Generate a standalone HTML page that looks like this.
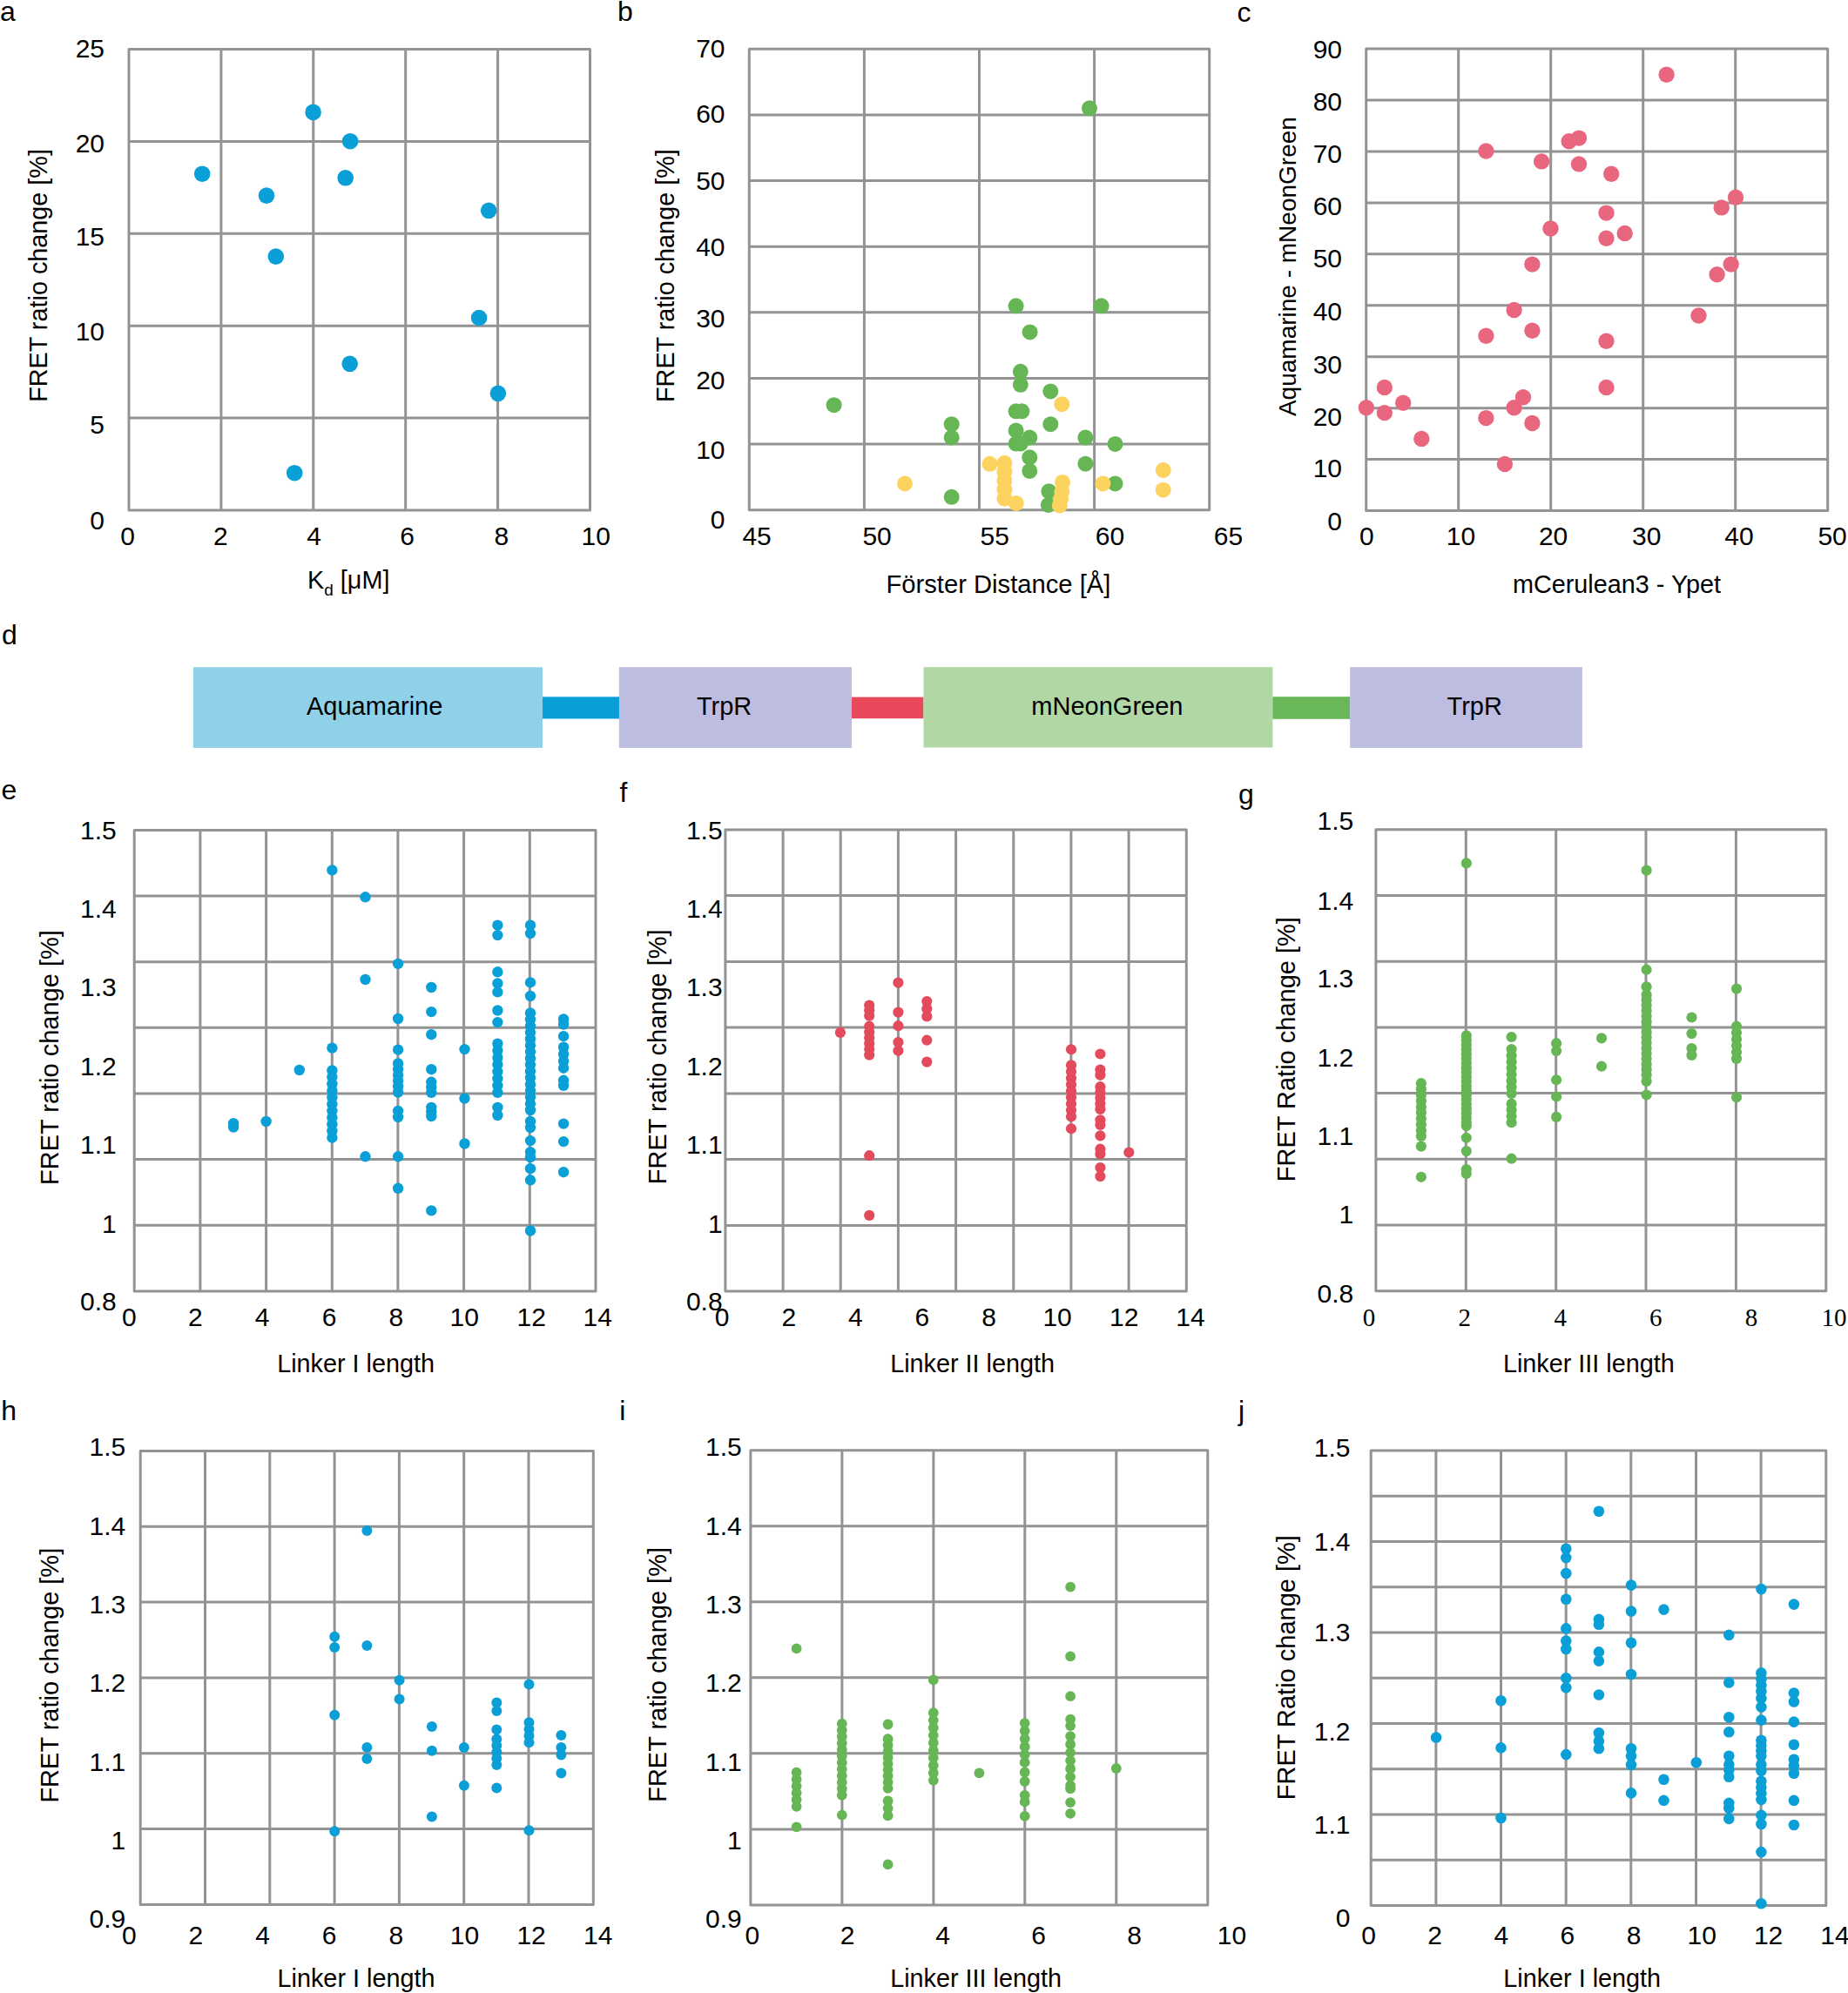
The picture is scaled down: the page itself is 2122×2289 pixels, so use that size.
<!DOCTYPE html>
<html><head><meta charset="utf-8"><title>FRET linker figure</title>
<style>html,body{margin:0;padding:0;background:#fff;}svg{display:block;}text{fill:#000;}</style>
</head><body>
<svg xmlns="http://www.w3.org/2000/svg" width="2122" height="2289" viewBox="0 0 2122 2289"><text x="0.0" y="24.0" font-size="32" text-anchor="start" font-family="'Liberation Sans', Arial, sans-serif" >a</text>
<path d="M253.9 56.5V586.0M359.8 56.5V586.0M465.7 56.5V586.0M571.6 56.5V586.0M148.0 162.4H677.5M148.0 268.3H677.5M148.0 374.2H677.5M148.0 480.1H677.5" stroke="#939393" stroke-width="3.0" fill="none"/>
<rect x="148.0" y="56.5" width="529.5" height="529.5" stroke="#939393" stroke-width="3.0" fill="none" stroke-linejoin="round"/>
<text x="120.0" y="65.5" font-size="30" text-anchor="end" font-family="'Liberation Sans', Arial, sans-serif">25</text>
<text x="120.0" y="174.6" font-size="30" text-anchor="end" font-family="'Liberation Sans', Arial, sans-serif">20</text>
<text x="120.0" y="282.2" font-size="30" text-anchor="end" font-family="'Liberation Sans', Arial, sans-serif">15</text>
<text x="120.0" y="390.8" font-size="30" text-anchor="end" font-family="'Liberation Sans', Arial, sans-serif">10</text>
<text x="120.0" y="498.4" font-size="30" text-anchor="end" font-family="'Liberation Sans', Arial, sans-serif">5</text>
<text x="120.0" y="607.6" font-size="30" text-anchor="end" font-family="'Liberation Sans', Arial, sans-serif">0</text>
<text x="146.5" y="625.9" font-size="30" text-anchor="middle" font-family="'Liberation Sans', Arial, sans-serif">0</text>
<text x="253.3" y="625.9" font-size="30" text-anchor="middle" font-family="'Liberation Sans', Arial, sans-serif">2</text>
<text x="360.6" y="625.9" font-size="30" text-anchor="middle" font-family="'Liberation Sans', Arial, sans-serif">4</text>
<text x="467.5" y="625.9" font-size="30" text-anchor="middle" font-family="'Liberation Sans', Arial, sans-serif">6</text>
<text x="575.8" y="625.9" font-size="30" text-anchor="middle" font-family="'Liberation Sans', Arial, sans-serif">8</text>
<text x="684.2" y="625.9" font-size="30" text-anchor="middle" font-family="'Liberation Sans', Arial, sans-serif">10</text>
<text x="353" y="676.1" font-size="28.8" font-family="'Liberation Sans', Arial, sans-serif">K<tspan font-size="19" dy="8">d</tspan><tspan dy="-8"> [μM]</tspan></text>
<text transform="translate(53.8,316.4) rotate(-90)" x="0" y="0" font-size="28.8" text-anchor="middle" font-family="'Liberation Sans', Arial, sans-serif">FRET ratio change [%]</text>
<circle cx="232.2" cy="199.7" r="9.3" fill="#0a9fd6"/><circle cx="306.0" cy="224.6" r="9.3" fill="#0a9fd6"/><circle cx="316.8" cy="294.6" r="9.3" fill="#0a9fd6"/><circle cx="359.6" cy="128.9" r="9.3" fill="#0a9fd6"/><circle cx="402.1" cy="162.2" r="9.3" fill="#0a9fd6"/><circle cx="396.7" cy="204.3" r="9.3" fill="#0a9fd6"/><circle cx="401.7" cy="417.8" r="9.3" fill="#0a9fd6"/><circle cx="338.2" cy="543.2" r="9.3" fill="#0a9fd6"/><circle cx="561.2" cy="241.8" r="9.3" fill="#0a9fd6"/><circle cx="550.1" cy="365.0" r="9.3" fill="#0a9fd6"/><circle cx="571.9" cy="451.8" r="9.3" fill="#0a9fd6"/>
<text x="709.0" y="24.0" font-size="32" text-anchor="start" font-family="'Liberation Sans', Arial, sans-serif" >b</text>
<path d="M992.4 56.2V585.8M1124.5 56.2V585.8M1256.6 56.2V585.8M860.3 131.9H1388.7M860.3 207.5H1388.7M860.3 283.2H1388.7M860.3 358.8H1388.7M860.3 434.5H1388.7M860.3 510.1H1388.7" stroke="#939393" stroke-width="3.0" fill="none"/>
<rect x="860.3" y="56.2" width="528.4" height="529.6" stroke="#939393" stroke-width="3.0" fill="none" stroke-linejoin="round"/>
<text x="832.5" y="66.4" font-size="30" text-anchor="end" font-family="'Liberation Sans', Arial, sans-serif">70</text>
<text x="832.5" y="141.1" font-size="30" text-anchor="end" font-family="'Liberation Sans', Arial, sans-serif">60</text>
<text x="832.5" y="218.3" font-size="30" text-anchor="end" font-family="'Liberation Sans', Arial, sans-serif">50</text>
<text x="832.5" y="294.4" font-size="30" text-anchor="end" font-family="'Liberation Sans', Arial, sans-serif">40</text>
<text x="832.5" y="375.6" font-size="30" text-anchor="end" font-family="'Liberation Sans', Arial, sans-serif">30</text>
<text x="832.5" y="446.5" font-size="30" text-anchor="end" font-family="'Liberation Sans', Arial, sans-serif">20</text>
<text x="832.5" y="527.2" font-size="30" text-anchor="end" font-family="'Liberation Sans', Arial, sans-serif">10</text>
<text x="832.5" y="607.3" font-size="30" text-anchor="end" font-family="'Liberation Sans', Arial, sans-serif">0</text>
<text x="869.1" y="625.8" font-size="30" text-anchor="middle" font-family="'Liberation Sans', Arial, sans-serif">45</text>
<text x="1007.1" y="625.8" font-size="30" text-anchor="middle" font-family="'Liberation Sans', Arial, sans-serif">50</text>
<text x="1142.2" y="625.8" font-size="30" text-anchor="middle" font-family="'Liberation Sans', Arial, sans-serif">55</text>
<text x="1274.5" y="625.8" font-size="30" text-anchor="middle" font-family="'Liberation Sans', Arial, sans-serif">60</text>
<text x="1410.4" y="625.8" font-size="30" text-anchor="middle" font-family="'Liberation Sans', Arial, sans-serif">65</text>
<text x="1146.4" y="680.6" font-size="29.2" text-anchor="middle" font-family="'Liberation Sans', Arial, sans-serif" >Förster Distance [Å]</text>
<text transform="translate(773.6,316.6) rotate(-90)" x="0" y="0" font-size="28.8" text-anchor="middle" font-family="'Liberation Sans', Arial, sans-serif">FRET ratio change [%]</text>
<circle cx="1166.6" cy="351.3" r="9" fill="#66b655"/><circle cx="1264.6" cy="351.3" r="9" fill="#66b655"/><circle cx="1182.6" cy="381.4" r="9" fill="#66b655"/><circle cx="1171.8" cy="426.8" r="9" fill="#66b655"/><circle cx="1171.8" cy="441.8" r="9" fill="#66b655"/><circle cx="1206.3" cy="449.4" r="9" fill="#66b655"/><circle cx="1166.6" cy="472.3" r="9" fill="#66b655"/><circle cx="1173.4" cy="472.3" r="9" fill="#66b655"/><circle cx="1092.7" cy="487.2" r="9" fill="#66b655"/><circle cx="1092.7" cy="502.6" r="9" fill="#66b655"/><circle cx="1206.3" cy="487.2" r="9" fill="#66b655"/><circle cx="1166.6" cy="494.5" r="9" fill="#66b655"/><circle cx="1182.3" cy="502.6" r="9" fill="#66b655"/><circle cx="1166.6" cy="509.6" r="9" fill="#66b655"/><circle cx="1171.8" cy="509.6" r="9" fill="#66b655"/><circle cx="1246.4" cy="502.6" r="9" fill="#66b655"/><circle cx="1280.5" cy="509.9" r="9" fill="#66b655"/><circle cx="1182.3" cy="525.3" r="9" fill="#66b655"/><circle cx="1182.3" cy="540.9" r="9" fill="#66b655"/><circle cx="1246.4" cy="532.7" r="9" fill="#66b655"/><circle cx="1092.7" cy="570.8" r="9" fill="#66b655"/><circle cx="1204.4" cy="564.3" r="9" fill="#66b655"/><circle cx="1203.8" cy="579.9" r="9" fill="#66b655"/><circle cx="1280.5" cy="555.4" r="9" fill="#66b655"/><circle cx="1251.0" cy="124.3" r="9" fill="#66b655"/><circle cx="957.6" cy="465.2" r="9" fill="#66b655"/>
<circle cx="1219.3" cy="464.2" r="9" fill="#fdd35f"/><circle cx="1136.6" cy="532.8" r="9" fill="#fdd35f"/><circle cx="1153.4" cy="531.8" r="9" fill="#fdd35f"/><circle cx="1153.4" cy="541.6" r="9" fill="#fdd35f"/><circle cx="1153.4" cy="551.9" r="9" fill="#fdd35f"/><circle cx="1153.4" cy="562.3" r="9" fill="#fdd35f"/><circle cx="1153.4" cy="572.7" r="9" fill="#fdd35f"/><circle cx="1166.8" cy="577.9" r="9" fill="#fdd35f"/><circle cx="1220.0" cy="553.9" r="9" fill="#fdd35f"/><circle cx="1219.4" cy="564.9" r="9" fill="#fdd35f"/><circle cx="1218.0" cy="573.4" r="9" fill="#fdd35f"/><circle cx="1216.8" cy="580.5" r="9" fill="#fdd35f"/><circle cx="1266.4" cy="555.4" r="9" fill="#fdd35f"/><circle cx="1335.7" cy="540.0" r="9" fill="#fdd35f"/><circle cx="1335.7" cy="562.7" r="9" fill="#fdd35f"/><circle cx="1039.0" cy="555.5" r="9" fill="#fdd35f"/>
<text x="1420.4" y="24.5" font-size="32" text-anchor="start" font-family="'Liberation Sans', Arial, sans-serif" >c</text>
<path d="M1674.7 56.0V586.6M1780.7 56.0V586.6M1886.7 56.0V586.6M1992.7 56.0V586.6M1568.7 115.0H2098.7M1568.7 173.9H2098.7M1568.7 232.9H2098.7M1568.7 291.8H2098.7M1568.7 350.8H2098.7M1568.7 409.7H2098.7M1568.7 468.7H2098.7M1568.7 527.6H2098.7" stroke="#939393" stroke-width="3.0" fill="none"/>
<rect x="1568.7" y="56.0" width="530.0" height="530.6" stroke="#939393" stroke-width="3.0" fill="none" stroke-linejoin="round"/>
<text x="1541.0" y="66.7" font-size="30" text-anchor="end" font-family="'Liberation Sans', Arial, sans-serif">90</text>
<text x="1541.0" y="126.7" font-size="30" text-anchor="end" font-family="'Liberation Sans', Arial, sans-serif">80</text>
<text x="1541.0" y="187.0" font-size="30" text-anchor="end" font-family="'Liberation Sans', Arial, sans-serif">70</text>
<text x="1541.0" y="247.0" font-size="30" text-anchor="end" font-family="'Liberation Sans', Arial, sans-serif">60</text>
<text x="1541.0" y="307.0" font-size="30" text-anchor="end" font-family="'Liberation Sans', Arial, sans-serif">50</text>
<text x="1541.0" y="367.6" font-size="30" text-anchor="end" font-family="'Liberation Sans', Arial, sans-serif">40</text>
<text x="1541.0" y="428.6" font-size="30" text-anchor="end" font-family="'Liberation Sans', Arial, sans-serif">30</text>
<text x="1541.0" y="488.5" font-size="30" text-anchor="end" font-family="'Liberation Sans', Arial, sans-serif">20</text>
<text x="1541.0" y="548.4" font-size="30" text-anchor="end" font-family="'Liberation Sans', Arial, sans-serif">10</text>
<text x="1541.0" y="609.0" font-size="30" text-anchor="end" font-family="'Liberation Sans', Arial, sans-serif">0</text>
<text x="1569.4" y="625.5" font-size="30" text-anchor="middle" font-family="'Liberation Sans', Arial, sans-serif">0</text>
<text x="1677.5" y="625.5" font-size="30" text-anchor="middle" font-family="'Liberation Sans', Arial, sans-serif">10</text>
<text x="1783.6" y="625.5" font-size="30" text-anchor="middle" font-family="'Liberation Sans', Arial, sans-serif">20</text>
<text x="1890.7" y="625.5" font-size="30" text-anchor="middle" font-family="'Liberation Sans', Arial, sans-serif">30</text>
<text x="1997.0" y="625.5" font-size="30" text-anchor="middle" font-family="'Liberation Sans', Arial, sans-serif">40</text>
<text x="2104.1" y="625.5" font-size="30" text-anchor="middle" font-family="'Liberation Sans', Arial, sans-serif">50</text>
<text x="1856.5" y="680.8" font-size="28.8" text-anchor="middle" font-family="'Liberation Sans', Arial, sans-serif" >mCerulean3 - Ypet</text>
<text transform="translate(1487.8,306.1) rotate(-90)" x="0" y="0" font-size="28" text-anchor="middle" font-family="'Liberation Sans', Arial, sans-serif">Aquamarine - mNeonGreen</text>
<text x="2.0" y="740.0" font-size="32" text-anchor="start" font-family="'Liberation Sans', Arial, sans-serif" >d</text>
<rect x="221.9" y="766.3" width="401.1" height="92.6" fill="#8ed1e8"/>
<rect x="623" y="800.3" width="88" height="25.2" fill="#0a9fd6"/>
<rect x="710.9" y="766.2" width="267.1" height="92.8" fill="#bcbde0"/>
<rect x="978" y="800.6" width="82.5" height="24.6" fill="#e84a5c"/>
<rect x="1060.5" y="766.2" width="400.9" height="92.3" fill="#b0d7a4"/>
<rect x="1461.4" y="800.2" width="88.8" height="25.6" fill="#6ab75a"/>
<rect x="1550.2" y="766.2" width="266.7" height="92.8" fill="#bcbde0"/>
<text x="430.2" y="820.6" font-size="29" text-anchor="middle" font-family="'Liberation Sans', Arial, sans-serif" >Aquamarine</text>
<text x="831.6" y="820.6" font-size="29" text-anchor="middle" font-family="'Liberation Sans', Arial, sans-serif" >TrpR</text>
<text x="1271.4" y="820.9" font-size="29" text-anchor="middle" font-family="'Liberation Sans', Arial, sans-serif" >mNeonGreen</text>
<text x="1693.2" y="820.6" font-size="29" text-anchor="middle" font-family="'Liberation Sans', Arial, sans-serif" >TrpR</text>
<text x="1.5" y="918.0" font-size="32" text-anchor="start" font-family="'Liberation Sans', Arial, sans-serif" >e</text>
<path d="M229.9 953.4V1482.9M305.6 953.4V1482.9M381.3 953.4V1482.9M456.9 953.4V1482.9M532.6 953.4V1482.9M608.3 953.4V1482.9M154.2 1029.0H684.0M154.2 1104.7H684.0M154.2 1180.3H684.0M154.2 1256.0H684.0M154.2 1331.6H684.0M154.2 1407.3H684.0" stroke="#939393" stroke-width="3.0" fill="none"/>
<rect x="154.2" y="953.4" width="529.8" height="529.5" stroke="#939393" stroke-width="3.0" fill="none" stroke-linejoin="round"/>
<text x="133.7" y="963.7" font-size="30" text-anchor="end" font-family="'Liberation Sans', Arial, sans-serif">1.5</text>
<text x="133.7" y="1054.1" font-size="30" text-anchor="end" font-family="'Liberation Sans', Arial, sans-serif">1.4</text>
<text x="133.7" y="1144.1" font-size="30" text-anchor="end" font-family="'Liberation Sans', Arial, sans-serif">1.3</text>
<text x="133.7" y="1234.8" font-size="30" text-anchor="end" font-family="'Liberation Sans', Arial, sans-serif">1.2</text>
<text x="133.7" y="1325.2" font-size="30" text-anchor="end" font-family="'Liberation Sans', Arial, sans-serif">1.1</text>
<text x="133.7" y="1415.6" font-size="30" text-anchor="end" font-family="'Liberation Sans', Arial, sans-serif">1</text>
<text x="133.7" y="1505.3" font-size="30" text-anchor="end" font-family="'Liberation Sans', Arial, sans-serif">0.8</text>
<text x="148.4" y="1523.0" font-size="30" text-anchor="middle" font-family="'Liberation Sans', Arial, sans-serif">0</text>
<text x="224.4" y="1523.0" font-size="30" text-anchor="middle" font-family="'Liberation Sans', Arial, sans-serif">2</text>
<text x="301.1" y="1523.0" font-size="30" text-anchor="middle" font-family="'Liberation Sans', Arial, sans-serif">4</text>
<text x="378.0" y="1523.0" font-size="30" text-anchor="middle" font-family="'Liberation Sans', Arial, sans-serif">6</text>
<text x="454.9" y="1523.0" font-size="30" text-anchor="middle" font-family="'Liberation Sans', Arial, sans-serif">8</text>
<text x="533.3" y="1523.0" font-size="30" text-anchor="middle" font-family="'Liberation Sans', Arial, sans-serif">10</text>
<text x="610.2" y="1523.0" font-size="30" text-anchor="middle" font-family="'Liberation Sans', Arial, sans-serif">12</text>
<text x="686.2" y="1523.0" font-size="30" text-anchor="middle" font-family="'Liberation Sans', Arial, sans-serif">14</text>
<text x="408.6" y="1576.3" font-size="28.8" text-anchor="middle" font-family="'Liberation Sans', Arial, sans-serif" >Linker I length</text>
<text transform="translate(66.5,1214.6) rotate(-90)" x="0" y="0" font-size="29" text-anchor="middle" font-family="'Liberation Sans', Arial, sans-serif">FRET ratio change [%]</text>
<text x="711.5" y="920.5" font-size="32" text-anchor="start" font-family="'Liberation Sans', Arial, sans-serif" >f</text>
<path d="M899.1 952.9V1483.1M965.2 952.9V1483.1M1031.4 952.9V1483.1M1097.6 952.9V1483.1M1163.8 952.9V1483.1M1229.9 952.9V1483.1M1296.1 952.9V1483.1M832.9 1028.6H1362.3M832.9 1104.4H1362.3M832.9 1180.1H1362.3M832.9 1255.9H1362.3M832.9 1331.6H1362.3M832.9 1407.4H1362.3" stroke="#939393" stroke-width="3.0" fill="none"/>
<rect x="832.9" y="952.9" width="529.4" height="530.2" stroke="#939393" stroke-width="3.0" fill="none" stroke-linejoin="round"/>
<text x="829.6" y="963.7" font-size="30" text-anchor="end" font-family="'Liberation Sans', Arial, sans-serif">1.5</text>
<text x="829.6" y="1054.1" font-size="30" text-anchor="end" font-family="'Liberation Sans', Arial, sans-serif">1.4</text>
<text x="829.6" y="1144.1" font-size="30" text-anchor="end" font-family="'Liberation Sans', Arial, sans-serif">1.3</text>
<text x="829.6" y="1234.8" font-size="30" text-anchor="end" font-family="'Liberation Sans', Arial, sans-serif">1.2</text>
<text x="829.6" y="1325.2" font-size="30" text-anchor="end" font-family="'Liberation Sans', Arial, sans-serif">1.1</text>
<text x="829.6" y="1415.6" font-size="30" text-anchor="end" font-family="'Liberation Sans', Arial, sans-serif">1</text>
<text x="829.6" y="1505.3" font-size="30" text-anchor="end" font-family="'Liberation Sans', Arial, sans-serif">0.8</text>
<text x="829.2" y="1523.0" font-size="30" text-anchor="middle" font-family="'Liberation Sans', Arial, sans-serif">0</text>
<text x="905.8" y="1523.0" font-size="30" text-anchor="middle" font-family="'Liberation Sans', Arial, sans-serif">2</text>
<text x="982.3" y="1523.0" font-size="30" text-anchor="middle" font-family="'Liberation Sans', Arial, sans-serif">4</text>
<text x="1058.9" y="1523.0" font-size="30" text-anchor="middle" font-family="'Liberation Sans', Arial, sans-serif">6</text>
<text x="1135.6" y="1523.0" font-size="30" text-anchor="middle" font-family="'Liberation Sans', Arial, sans-serif">8</text>
<text x="1214.1" y="1523.0" font-size="30" text-anchor="middle" font-family="'Liberation Sans', Arial, sans-serif">10</text>
<text x="1290.7" y="1523.0" font-size="30" text-anchor="middle" font-family="'Liberation Sans', Arial, sans-serif">12</text>
<text x="1367.0" y="1523.0" font-size="30" text-anchor="middle" font-family="'Liberation Sans', Arial, sans-serif">14</text>
<text x="1116.6" y="1576.1" font-size="28.8" text-anchor="middle" font-family="'Liberation Sans', Arial, sans-serif" >Linker II length</text>
<text transform="translate(764.8,1213.8) rotate(-90)" x="0" y="0" font-size="29" text-anchor="middle" font-family="'Liberation Sans', Arial, sans-serif">FRET ratio change [%]</text>
<text x="1422.0" y="922.7" font-size="32" text-anchor="start" font-family="'Liberation Sans', Arial, sans-serif" >g</text>
<path d="M1683.3 952.8V1482.7M1786.7 952.8V1482.7M1890.0 952.8V1482.7M1993.4 952.8V1482.7M1579.9 1028.5H2096.8M1579.9 1104.2H2096.8M1579.9 1179.9H2096.8M1579.9 1255.6H2096.8M1579.9 1331.3H2096.8M1579.9 1407.0H2096.8" stroke="#939393" stroke-width="3.0" fill="none"/>
<rect x="1579.9" y="952.8" width="516.9" height="529.9" stroke="#939393" stroke-width="3.0" fill="none" stroke-linejoin="round"/>
<text x="1554.3" y="953.3" font-size="30" text-anchor="end" font-family="'Liberation Sans', Arial, sans-serif">1.5</text>
<text x="1554.3" y="1044.5" font-size="30" text-anchor="end" font-family="'Liberation Sans', Arial, sans-serif">1.4</text>
<text x="1554.3" y="1134.1" font-size="30" text-anchor="end" font-family="'Liberation Sans', Arial, sans-serif">1.3</text>
<text x="1554.3" y="1225.0" font-size="30" text-anchor="end" font-family="'Liberation Sans', Arial, sans-serif">1.2</text>
<text x="1554.3" y="1314.7" font-size="30" text-anchor="end" font-family="'Liberation Sans', Arial, sans-serif">1.1</text>
<text x="1554.3" y="1405.1" font-size="30" text-anchor="end" font-family="'Liberation Sans', Arial, sans-serif">1</text>
<text x="1554.3" y="1495.5" font-size="30" text-anchor="end" font-family="'Liberation Sans', Arial, sans-serif">0.8</text>
<text x="1572.1" y="1523.1" font-size="29" text-anchor="middle" font-family="'Liberation Serif', 'Times New Roman', serif">0</text>
<text x="1681.7" y="1523.1" font-size="29" text-anchor="middle" font-family="'Liberation Serif', 'Times New Roman', serif">2</text>
<text x="1791.7" y="1523.1" font-size="29" text-anchor="middle" font-family="'Liberation Serif', 'Times New Roman', serif">4</text>
<text x="1901.3" y="1523.1" font-size="29" text-anchor="middle" font-family="'Liberation Serif', 'Times New Roman', serif">6</text>
<text x="2010.9" y="1523.1" font-size="29" text-anchor="middle" font-family="'Liberation Serif', 'Times New Roman', serif">8</text>
<text x="2105.9" y="1523.1" font-size="29" text-anchor="middle" font-family="'Liberation Serif', 'Times New Roman', serif">10</text>
<text x="1824.4" y="1576.1" font-size="28.8" text-anchor="middle" font-family="'Liberation Sans', Arial, sans-serif" >Linker III length</text>
<text transform="translate(1487.4,1205.2) rotate(-90)" x="0" y="0" font-size="29" text-anchor="middle" font-family="'Liberation Sans', Arial, sans-serif">FRET Ratio change [%]</text>
<text x="1.2" y="1630.7" font-size="32" text-anchor="start" font-family="'Liberation Sans', Arial, sans-serif" >h</text>
<path d="M235.5 1666.4V2187.4M309.8 1666.4V2187.4M384.1 1666.4V2187.4M458.4 1666.4V2187.4M532.7 1666.4V2187.4M607.0 1666.4V2187.4M161.2 1753.2H681.3M161.2 1840.1H681.3M161.2 1926.9H681.3M161.2 2013.7H681.3M161.2 2100.6H681.3" stroke="#939393" stroke-width="3.0" fill="none"/>
<rect x="161.2" y="1666.4" width="520.1" height="521.0" stroke="#939393" stroke-width="3.0" fill="none" stroke-linejoin="round"/>
<text x="144.3" y="1671.8" font-size="30" text-anchor="end" font-family="'Liberation Sans', Arial, sans-serif">1.5</text>
<text x="144.3" y="1762.9" font-size="30" text-anchor="end" font-family="'Liberation Sans', Arial, sans-serif">1.4</text>
<text x="144.3" y="1852.6" font-size="30" text-anchor="end" font-family="'Liberation Sans', Arial, sans-serif">1.3</text>
<text x="144.3" y="1943.3" font-size="30" text-anchor="end" font-family="'Liberation Sans', Arial, sans-serif">1.2</text>
<text x="144.3" y="2033.7" font-size="30" text-anchor="end" font-family="'Liberation Sans', Arial, sans-serif">1.1</text>
<text x="144.3" y="2124.1" font-size="30" text-anchor="end" font-family="'Liberation Sans', Arial, sans-serif">1</text>
<text x="144.3" y="2213.9" font-size="30" text-anchor="end" font-family="'Liberation Sans', Arial, sans-serif">0.9</text>
<text x="148.4" y="2232.7" font-size="30" text-anchor="middle" font-family="'Liberation Sans', Arial, sans-serif">0</text>
<text x="224.9" y="2232.7" font-size="30" text-anchor="middle" font-family="'Liberation Sans', Arial, sans-serif">2</text>
<text x="301.5" y="2232.7" font-size="30" text-anchor="middle" font-family="'Liberation Sans', Arial, sans-serif">4</text>
<text x="378.1" y="2232.7" font-size="30" text-anchor="middle" font-family="'Liberation Sans', Arial, sans-serif">6</text>
<text x="454.8" y="2232.7" font-size="30" text-anchor="middle" font-family="'Liberation Sans', Arial, sans-serif">8</text>
<text x="533.5" y="2232.7" font-size="30" text-anchor="middle" font-family="'Liberation Sans', Arial, sans-serif">10</text>
<text x="610.1" y="2232.7" font-size="30" text-anchor="middle" font-family="'Liberation Sans', Arial, sans-serif">12</text>
<text x="686.7" y="2232.7" font-size="30" text-anchor="middle" font-family="'Liberation Sans', Arial, sans-serif">14</text>
<text x="409.0" y="2282.0" font-size="28.8" text-anchor="middle" font-family="'Liberation Sans', Arial, sans-serif" >Linker I length</text>
<text transform="translate(66.5,1924.2) rotate(-90)" x="0" y="0" font-size="29" text-anchor="middle" font-family="'Liberation Sans', Arial, sans-serif">FRET ratio change [%]</text>
<text x="711.3" y="1631.0" font-size="32" text-anchor="start" font-family="'Liberation Sans', Arial, sans-serif" >i</text>
<path d="M966.9 1665.7V2187.9M1071.9 1665.7V2187.9M1176.8 1665.7V2187.9M1281.8 1665.7V2187.9M861.9 1752.7H1386.8M861.9 1839.8H1386.8M861.9 1926.8H1386.8M861.9 2013.8H1386.8M861.9 2100.9H1386.8" stroke="#939393" stroke-width="3.0" fill="none"/>
<rect x="861.9" y="1665.7" width="524.9" height="522.2" stroke="#939393" stroke-width="3.0" fill="none" stroke-linejoin="round"/>
<text x="851.8" y="1671.8" font-size="30" text-anchor="end" font-family="'Liberation Sans', Arial, sans-serif">1.5</text>
<text x="851.8" y="1762.9" font-size="30" text-anchor="end" font-family="'Liberation Sans', Arial, sans-serif">1.4</text>
<text x="851.8" y="1852.6" font-size="30" text-anchor="end" font-family="'Liberation Sans', Arial, sans-serif">1.3</text>
<text x="851.8" y="1943.3" font-size="30" text-anchor="end" font-family="'Liberation Sans', Arial, sans-serif">1.2</text>
<text x="851.8" y="2033.7" font-size="30" text-anchor="end" font-family="'Liberation Sans', Arial, sans-serif">1.1</text>
<text x="851.8" y="2124.1" font-size="30" text-anchor="end" font-family="'Liberation Sans', Arial, sans-serif">1</text>
<text x="851.8" y="2213.8" font-size="30" text-anchor="end" font-family="'Liberation Sans', Arial, sans-serif">0.9</text>
<text x="863.8" y="2232.7" font-size="30" text-anchor="middle" font-family="'Liberation Sans', Arial, sans-serif">0</text>
<text x="973.2" y="2232.7" font-size="30" text-anchor="middle" font-family="'Liberation Sans', Arial, sans-serif">2</text>
<text x="1082.7" y="2232.7" font-size="30" text-anchor="middle" font-family="'Liberation Sans', Arial, sans-serif">4</text>
<text x="1192.7" y="2232.7" font-size="30" text-anchor="middle" font-family="'Liberation Sans', Arial, sans-serif">6</text>
<text x="1302.5" y="2232.7" font-size="30" text-anchor="middle" font-family="'Liberation Sans', Arial, sans-serif">8</text>
<text x="1414.5" y="2232.7" font-size="30" text-anchor="middle" font-family="'Liberation Sans', Arial, sans-serif">10</text>
<text x="1120.6" y="2282.2" font-size="28.8" text-anchor="middle" font-family="'Liberation Sans', Arial, sans-serif" >Linker III length</text>
<text transform="translate(764.8,1923.4) rotate(-90)" x="0" y="0" font-size="29" text-anchor="middle" font-family="'Liberation Sans', Arial, sans-serif">FRET ratio change [%]</text>
<text x="1422.0" y="1630.7" font-size="32" text-anchor="start" font-family="'Liberation Sans', Arial, sans-serif" >j</text>
<path d="M1648.9 1665.9V2188.5M1723.5 1665.9V2188.5M1798.2 1665.9V2188.5M1872.8 1665.9V2188.5M1947.5 1665.9V2188.5M2022.1 1665.9V2188.5M1574.2 1718.2H2096.8M1574.2 1770.4H2096.8M1574.2 1822.7H2096.8M1574.2 1874.9H2096.8M1574.2 1927.2H2096.8M1574.2 1979.5H2096.8M1574.2 2031.7H2096.8M1574.2 2084.0H2096.8M1574.2 2136.2H2096.8" stroke="#939393" stroke-width="3.0" fill="none"/>
<rect x="1574.2" y="1665.9" width="522.6" height="522.6" stroke="#939393" stroke-width="3.0" fill="none" stroke-linejoin="round"/>
<text x="1550.5" y="1672.6" font-size="30" text-anchor="end" font-family="'Liberation Sans', Arial, sans-serif">1.5</text>
<text x="1550.5" y="1781.0" font-size="30" text-anchor="end" font-family="'Liberation Sans', Arial, sans-serif">1.4</text>
<text x="1550.5" y="1885.0" font-size="30" text-anchor="end" font-family="'Liberation Sans', Arial, sans-serif">1.3</text>
<text x="1550.5" y="1998.7" font-size="30" text-anchor="end" font-family="'Liberation Sans', Arial, sans-serif">1.2</text>
<text x="1550.5" y="2106.4" font-size="30" text-anchor="end" font-family="'Liberation Sans', Arial, sans-serif">1.1</text>
<text x="1550.5" y="2212.9" font-size="30" text-anchor="end" font-family="'Liberation Sans', Arial, sans-serif">0</text>
<text x="1571.5" y="2232.5" font-size="30" text-anchor="middle" font-family="'Liberation Sans', Arial, sans-serif">0</text>
<text x="1647.6" y="2232.5" font-size="30" text-anchor="middle" font-family="'Liberation Sans', Arial, sans-serif">2</text>
<text x="1723.8" y="2232.5" font-size="30" text-anchor="middle" font-family="'Liberation Sans', Arial, sans-serif">4</text>
<text x="1799.8" y="2232.5" font-size="30" text-anchor="middle" font-family="'Liberation Sans', Arial, sans-serif">6</text>
<text x="1876.2" y="2232.5" font-size="30" text-anchor="middle" font-family="'Liberation Sans', Arial, sans-serif">8</text>
<text x="1954.2" y="2232.5" font-size="30" text-anchor="middle" font-family="'Liberation Sans', Arial, sans-serif">10</text>
<text x="2030.6" y="2232.5" font-size="30" text-anchor="middle" font-family="'Liberation Sans', Arial, sans-serif">12</text>
<text x="2107.0" y="2232.5" font-size="30" text-anchor="middle" font-family="'Liberation Sans', Arial, sans-serif">14</text>
<text x="1816.7" y="2282.2" font-size="28.8" text-anchor="middle" font-family="'Liberation Sans', Arial, sans-serif" >Linker I length</text>
<text transform="translate(1487.4,1915.2) rotate(-90)" x="0" y="0" font-size="29" text-anchor="middle" font-family="'Liberation Sans', Arial, sans-serif">FRET Ratio change [%]</text>
<circle cx="1913.6" cy="85.7" r="9.2" fill="#e8677f"/><circle cx="1801.7" cy="162.2" r="9.2" fill="#e8677f"/><circle cx="1813.0" cy="158.6" r="9.2" fill="#e8677f"/><circle cx="1706.4" cy="173.5" r="9.2" fill="#e8677f"/><circle cx="1770.1" cy="185.4" r="9.2" fill="#e8677f"/><circle cx="1813.0" cy="188.4" r="9.2" fill="#e8677f"/><circle cx="1850.2" cy="199.7" r="9.2" fill="#e8677f"/><circle cx="1993.0" cy="226.8" r="9.2" fill="#e8677f"/><circle cx="1976.7" cy="238.4" r="9.2" fill="#e8677f"/><circle cx="1844.5" cy="244.6" r="9.2" fill="#e8677f"/><circle cx="1780.5" cy="262.5" r="9.2" fill="#e8677f"/><circle cx="1844.5" cy="273.8" r="9.2" fill="#e8677f"/><circle cx="1865.7" cy="267.9" r="9.2" fill="#e8677f"/><circle cx="1759.4" cy="303.6" r="9.2" fill="#e8677f"/><circle cx="1987.7" cy="303.6" r="9.2" fill="#e8677f"/><circle cx="1971.6" cy="315.2" r="9.2" fill="#e8677f"/><circle cx="1738.6" cy="356.0" r="9.2" fill="#e8677f"/><circle cx="1950.5" cy="362.5" r="9.2" fill="#e8677f"/><circle cx="1706.4" cy="385.7" r="9.2" fill="#e8677f"/><circle cx="1759.4" cy="379.8" r="9.2" fill="#e8677f"/><circle cx="1844.5" cy="391.7" r="9.2" fill="#e8677f"/><circle cx="1589.8" cy="444.9" r="9.2" fill="#e8677f"/><circle cx="1844.5" cy="444.9" r="9.2" fill="#e8677f"/><circle cx="1611.2" cy="462.8" r="9.2" fill="#e8677f"/><circle cx="1568.9" cy="468.2" r="9.2" fill="#e8677f"/><circle cx="1589.8" cy="474.1" r="9.2" fill="#e8677f"/><circle cx="1749.0" cy="456.3" r="9.2" fill="#e8677f"/><circle cx="1738.6" cy="468.2" r="9.2" fill="#e8677f"/><circle cx="1706.4" cy="480.1" r="9.2" fill="#e8677f"/><circle cx="1759.4" cy="486.0" r="9.2" fill="#e8677f"/><circle cx="1632.3" cy="503.9" r="9.2" fill="#e8677f"/><circle cx="1727.9" cy="533.0" r="9.2" fill="#e8677f"/>
<circle cx="268.1" cy="1290.2" r="6.2" fill="#0a9fd6"/><circle cx="268.1" cy="1294.6" r="6.2" fill="#0a9fd6"/><circle cx="305.6" cy="1288.0" r="6.2" fill="#0a9fd6"/><circle cx="343.8" cy="1229.0" r="6.2" fill="#0a9fd6"/><circle cx="381.4" cy="999.4" r="6.2" fill="#0a9fd6"/><circle cx="381.4" cy="1203.6" r="6.2" fill="#0a9fd6"/><circle cx="381.4" cy="1229.4" r="6.2" fill="#0a9fd6"/><circle cx="381.4" cy="1237.1" r="6.2" fill="#0a9fd6"/><circle cx="381.4" cy="1244.9" r="6.2" fill="#0a9fd6"/><circle cx="381.4" cy="1252.6" r="6.2" fill="#0a9fd6"/><circle cx="381.4" cy="1260.3" r="6.2" fill="#0a9fd6"/><circle cx="381.4" cy="1268.1" r="6.2" fill="#0a9fd6"/><circle cx="381.4" cy="1275.8" r="6.2" fill="#0a9fd6"/><circle cx="381.4" cy="1283.5" r="6.2" fill="#0a9fd6"/><circle cx="381.4" cy="1291.2" r="6.2" fill="#0a9fd6"/><circle cx="381.4" cy="1299.0" r="6.2" fill="#0a9fd6"/><circle cx="381.4" cy="1306.7" r="6.2" fill="#0a9fd6"/><circle cx="419.5" cy="1030.3" r="6.2" fill="#0a9fd6"/><circle cx="419.5" cy="1125.0" r="6.2" fill="#0a9fd6"/><circle cx="419.5" cy="1328.3" r="6.2" fill="#0a9fd6"/><circle cx="457.1" cy="1106.9" r="6.2" fill="#0a9fd6"/><circle cx="457.1" cy="1170.0" r="6.2" fill="#0a9fd6"/><circle cx="457.1" cy="1205.7" r="6.2" fill="#0a9fd6"/><circle cx="457.1" cy="1276.0" r="6.2" fill="#0a9fd6"/><circle cx="457.1" cy="1283.0" r="6.2" fill="#0a9fd6"/><circle cx="457.1" cy="1328.3" r="6.2" fill="#0a9fd6"/><circle cx="457.1" cy="1364.8" r="6.2" fill="#0a9fd6"/><circle cx="457.1" cy="1221.5" r="6.2" fill="#0a9fd6"/><circle cx="457.1" cy="1228.1" r="6.2" fill="#0a9fd6"/><circle cx="457.1" cy="1234.7" r="6.2" fill="#0a9fd6"/><circle cx="457.1" cy="1241.3" r="6.2" fill="#0a9fd6"/><circle cx="457.1" cy="1247.9" r="6.2" fill="#0a9fd6"/><circle cx="457.1" cy="1254.5" r="6.2" fill="#0a9fd6"/><circle cx="495.3" cy="1134.0" r="6.2" fill="#0a9fd6"/><circle cx="495.3" cy="1162.1" r="6.2" fill="#0a9fd6"/><circle cx="495.3" cy="1188.2" r="6.2" fill="#0a9fd6"/><circle cx="495.3" cy="1228.2" r="6.2" fill="#0a9fd6"/><circle cx="495.3" cy="1242.8" r="6.2" fill="#0a9fd6"/><circle cx="495.3" cy="1248.8" r="6.2" fill="#0a9fd6"/><circle cx="495.3" cy="1254.9" r="6.2" fill="#0a9fd6"/><circle cx="495.3" cy="1271.9" r="6.2" fill="#0a9fd6"/><circle cx="495.3" cy="1277.0" r="6.2" fill="#0a9fd6"/><circle cx="495.3" cy="1282.0" r="6.2" fill="#0a9fd6"/><circle cx="495.3" cy="1390.4" r="6.2" fill="#0a9fd6"/><circle cx="533.5" cy="1205.1" r="6.2" fill="#0a9fd6"/><circle cx="533.5" cy="1261.5" r="6.2" fill="#0a9fd6"/><circle cx="533.5" cy="1313.5" r="6.2" fill="#0a9fd6"/><circle cx="571.4" cy="1062.7" r="6.2" fill="#0a9fd6"/><circle cx="571.4" cy="1074.1" r="6.2" fill="#0a9fd6"/><circle cx="571.4" cy="1116.3" r="6.2" fill="#0a9fd6"/><circle cx="571.4" cy="1129.4" r="6.2" fill="#0a9fd6"/><circle cx="571.4" cy="1139.4" r="6.2" fill="#0a9fd6"/><circle cx="571.4" cy="1160.5" r="6.2" fill="#0a9fd6"/><circle cx="571.4" cy="1174.1" r="6.2" fill="#0a9fd6"/><circle cx="571.4" cy="1271.9" r="6.2" fill="#0a9fd6"/><circle cx="571.4" cy="1281.0" r="6.2" fill="#0a9fd6"/><circle cx="571.4" cy="1198.6" r="6.2" fill="#0a9fd6"/><circle cx="571.4" cy="1206.6" r="6.2" fill="#0a9fd6"/><circle cx="571.4" cy="1214.7" r="6.2" fill="#0a9fd6"/><circle cx="571.4" cy="1222.7" r="6.2" fill="#0a9fd6"/><circle cx="571.4" cy="1230.8" r="6.2" fill="#0a9fd6"/><circle cx="571.4" cy="1238.8" r="6.2" fill="#0a9fd6"/><circle cx="571.4" cy="1246.9" r="6.2" fill="#0a9fd6"/><circle cx="571.4" cy="1254.9" r="6.2" fill="#0a9fd6"/><circle cx="609.0" cy="1062.7" r="6.2" fill="#0a9fd6"/><circle cx="609.0" cy="1072.1" r="6.2" fill="#0a9fd6"/><circle cx="609.0" cy="1128.4" r="6.2" fill="#0a9fd6"/><circle cx="609.0" cy="1144.0" r="6.2" fill="#0a9fd6"/><circle cx="609.0" cy="1288.0" r="6.2" fill="#0a9fd6"/><circle cx="609.0" cy="1295.0" r="6.2" fill="#0a9fd6"/><circle cx="609.0" cy="1310.1" r="6.2" fill="#0a9fd6"/><circle cx="609.0" cy="1323.1" r="6.2" fill="#0a9fd6"/><circle cx="609.0" cy="1329.2" r="6.2" fill="#0a9fd6"/><circle cx="609.0" cy="1342.2" r="6.2" fill="#0a9fd6"/><circle cx="609.0" cy="1355.3" r="6.2" fill="#0a9fd6"/><circle cx="609.0" cy="1413.5" r="6.2" fill="#0a9fd6"/><circle cx="609.0" cy="1163.5" r="6.2" fill="#0a9fd6"/><circle cx="609.0" cy="1170.9" r="6.2" fill="#0a9fd6"/><circle cx="609.0" cy="1178.4" r="6.2" fill="#0a9fd6"/><circle cx="609.0" cy="1185.8" r="6.2" fill="#0a9fd6"/><circle cx="609.0" cy="1193.2" r="6.2" fill="#0a9fd6"/><circle cx="609.0" cy="1200.7" r="6.2" fill="#0a9fd6"/><circle cx="609.0" cy="1208.1" r="6.2" fill="#0a9fd6"/><circle cx="609.0" cy="1215.5" r="6.2" fill="#0a9fd6"/><circle cx="609.0" cy="1223.0" r="6.2" fill="#0a9fd6"/><circle cx="609.0" cy="1230.4" r="6.2" fill="#0a9fd6"/><circle cx="609.0" cy="1237.8" r="6.2" fill="#0a9fd6"/><circle cx="609.0" cy="1245.3" r="6.2" fill="#0a9fd6"/><circle cx="609.0" cy="1252.7" r="6.2" fill="#0a9fd6"/><circle cx="609.0" cy="1260.1" r="6.2" fill="#0a9fd6"/><circle cx="609.0" cy="1267.6" r="6.2" fill="#0a9fd6"/><circle cx="609.0" cy="1275.0" r="6.2" fill="#0a9fd6"/><circle cx="647.1" cy="1170.5" r="6.2" fill="#0a9fd6"/><circle cx="647.1" cy="1176.5" r="6.2" fill="#0a9fd6"/><circle cx="647.1" cy="1190.2" r="6.2" fill="#0a9fd6"/><circle cx="647.1" cy="1240.8" r="6.2" fill="#0a9fd6"/><circle cx="647.1" cy="1246.8" r="6.2" fill="#0a9fd6"/><circle cx="647.1" cy="1290.6" r="6.2" fill="#0a9fd6"/><circle cx="647.1" cy="1311.1" r="6.2" fill="#0a9fd6"/><circle cx="647.1" cy="1346.2" r="6.2" fill="#0a9fd6"/><circle cx="647.1" cy="1202.7" r="6.2" fill="#0a9fd6"/><circle cx="647.1" cy="1210.7" r="6.2" fill="#0a9fd6"/><circle cx="647.1" cy="1218.7" r="6.2" fill="#0a9fd6"/><circle cx="647.1" cy="1226.7" r="6.2" fill="#0a9fd6"/>
<circle cx="964.9" cy="1185.9" r="6.1" fill="#e34a5b"/><circle cx="998.2" cy="1154.6" r="6.1" fill="#e34a5b"/><circle cx="998.2" cy="1160.2" r="6.1" fill="#e34a5b"/><circle cx="998.2" cy="1166.6" r="6.1" fill="#e34a5b"/><circle cx="998.2" cy="1327.2" r="6.1" fill="#e34a5b"/><circle cx="998.2" cy="1395.9" r="6.1" fill="#e34a5b"/><circle cx="998.2" cy="1178.7" r="6.1" fill="#e34a5b"/><circle cx="998.2" cy="1185.3" r="6.1" fill="#e34a5b"/><circle cx="998.2" cy="1191.9" r="6.1" fill="#e34a5b"/><circle cx="998.2" cy="1198.4" r="6.1" fill="#e34a5b"/><circle cx="998.2" cy="1205.0" r="6.1" fill="#e34a5b"/><circle cx="998.2" cy="1211.6" r="6.1" fill="#e34a5b"/><circle cx="1031.4" cy="1128.6" r="6.1" fill="#e34a5b"/><circle cx="1031.4" cy="1162.6" r="6.1" fill="#e34a5b"/><circle cx="1031.4" cy="1178.2" r="6.1" fill="#e34a5b"/><circle cx="1031.4" cy="1197.1" r="6.1" fill="#e34a5b"/><circle cx="1031.4" cy="1206.8" r="6.1" fill="#e34a5b"/><circle cx="1064.3" cy="1150.1" r="6.1" fill="#e34a5b"/><circle cx="1064.3" cy="1158.6" r="6.1" fill="#e34a5b"/><circle cx="1064.3" cy="1167.4" r="6.1" fill="#e34a5b"/><circle cx="1064.3" cy="1194.7" r="6.1" fill="#e34a5b"/><circle cx="1064.3" cy="1219.6" r="6.1" fill="#e34a5b"/><circle cx="1230.0" cy="1205.3" r="6.1" fill="#e34a5b"/><circle cx="1230.0" cy="1296.3" r="6.1" fill="#e34a5b"/><circle cx="1230.0" cy="1223.4" r="6.1" fill="#e34a5b"/><circle cx="1230.0" cy="1230.8" r="6.1" fill="#e34a5b"/><circle cx="1230.0" cy="1238.2" r="6.1" fill="#e34a5b"/><circle cx="1230.0" cy="1245.6" r="6.1" fill="#e34a5b"/><circle cx="1230.0" cy="1253.0" r="6.1" fill="#e34a5b"/><circle cx="1230.0" cy="1260.3" r="6.1" fill="#e34a5b"/><circle cx="1230.0" cy="1267.7" r="6.1" fill="#e34a5b"/><circle cx="1230.0" cy="1275.1" r="6.1" fill="#e34a5b"/><circle cx="1230.0" cy="1282.5" r="6.1" fill="#e34a5b"/><circle cx="1263.4" cy="1210.5" r="6.1" fill="#e34a5b"/><circle cx="1263.4" cy="1228.6" r="6.1" fill="#e34a5b"/><circle cx="1263.4" cy="1234.8" r="6.1" fill="#e34a5b"/><circle cx="1263.4" cy="1286.3" r="6.1" fill="#e34a5b"/><circle cx="1263.4" cy="1292.0" r="6.1" fill="#e34a5b"/><circle cx="1263.4" cy="1304.4" r="6.1" fill="#e34a5b"/><circle cx="1263.4" cy="1319.7" r="6.1" fill="#e34a5b"/><circle cx="1263.4" cy="1325.4" r="6.1" fill="#e34a5b"/><circle cx="1263.4" cy="1341.1" r="6.1" fill="#e34a5b"/><circle cx="1263.4" cy="1351.1" r="6.1" fill="#e34a5b"/><circle cx="1263.4" cy="1248.2" r="6.1" fill="#e34a5b"/><circle cx="1263.4" cy="1254.6" r="6.1" fill="#e34a5b"/><circle cx="1263.4" cy="1261.1" r="6.1" fill="#e34a5b"/><circle cx="1263.4" cy="1267.5" r="6.1" fill="#e34a5b"/><circle cx="1263.4" cy="1273.9" r="6.1" fill="#e34a5b"/><circle cx="1296.3" cy="1323.5" r="6.1" fill="#e34a5b"/>
<circle cx="1631.9" cy="1244.2" r="6.1" fill="#66b655"/><circle cx="1631.9" cy="1250.9" r="6.1" fill="#66b655"/><circle cx="1631.9" cy="1257.7" r="6.1" fill="#66b655"/><circle cx="1631.9" cy="1264.4" r="6.1" fill="#66b655"/><circle cx="1631.9" cy="1271.2" r="6.1" fill="#66b655"/><circle cx="1631.9" cy="1277.9" r="6.1" fill="#66b655"/><circle cx="1631.9" cy="1284.7" r="6.1" fill="#66b655"/><circle cx="1631.9" cy="1291.4" r="6.1" fill="#66b655"/><circle cx="1631.9" cy="1298.2" r="6.1" fill="#66b655"/><circle cx="1631.9" cy="1304.9" r="6.1" fill="#66b655"/><circle cx="1631.9" cy="1316.6" r="6.1" fill="#66b655"/><circle cx="1631.9" cy="1351.8" r="6.1" fill="#66b655"/><circle cx="1683.8" cy="991.4" r="6.1" fill="#66b655"/><circle cx="1683.8" cy="1293.1" r="6.1" fill="#66b655"/><circle cx="1683.8" cy="1306.8" r="6.1" fill="#66b655"/><circle cx="1683.8" cy="1322.1" r="6.1" fill="#66b655"/><circle cx="1683.8" cy="1343.0" r="6.1" fill="#66b655"/><circle cx="1683.8" cy="1347.9" r="6.1" fill="#66b655"/><circle cx="1683.8" cy="1189.4" r="6.1" fill="#66b655"/><circle cx="1683.8" cy="1194.7" r="6.1" fill="#66b655"/><circle cx="1683.8" cy="1199.9" r="6.1" fill="#66b655"/><circle cx="1683.8" cy="1205.2" r="6.1" fill="#66b655"/><circle cx="1683.8" cy="1210.4" r="6.1" fill="#66b655"/><circle cx="1683.8" cy="1215.7" r="6.1" fill="#66b655"/><circle cx="1683.8" cy="1220.9" r="6.1" fill="#66b655"/><circle cx="1683.8" cy="1226.2" r="6.1" fill="#66b655"/><circle cx="1683.8" cy="1231.4" r="6.1" fill="#66b655"/><circle cx="1683.8" cy="1236.7" r="6.1" fill="#66b655"/><circle cx="1683.8" cy="1241.9" r="6.1" fill="#66b655"/><circle cx="1683.8" cy="1247.2" r="6.1" fill="#66b655"/><circle cx="1683.8" cy="1252.4" r="6.1" fill="#66b655"/><circle cx="1683.8" cy="1257.7" r="6.1" fill="#66b655"/><circle cx="1683.8" cy="1262.9" r="6.1" fill="#66b655"/><circle cx="1683.8" cy="1268.2" r="6.1" fill="#66b655"/><circle cx="1683.8" cy="1273.4" r="6.1" fill="#66b655"/><circle cx="1683.8" cy="1278.7" r="6.1" fill="#66b655"/><circle cx="1683.8" cy="1283.9" r="6.1" fill="#66b655"/><circle cx="1683.8" cy="1289.2" r="6.1" fill="#66b655"/><circle cx="1735.6" cy="1191.0" r="6.1" fill="#66b655"/><circle cx="1735.6" cy="1330.7" r="6.1" fill="#66b655"/><circle cx="1735.6" cy="1205.0" r="6.1" fill="#66b655"/><circle cx="1735.6" cy="1212.3" r="6.1" fill="#66b655"/><circle cx="1735.6" cy="1219.5" r="6.1" fill="#66b655"/><circle cx="1735.6" cy="1226.8" r="6.1" fill="#66b655"/><circle cx="1735.6" cy="1234.1" r="6.1" fill="#66b655"/><circle cx="1735.6" cy="1241.4" r="6.1" fill="#66b655"/><circle cx="1735.6" cy="1248.6" r="6.1" fill="#66b655"/><circle cx="1735.6" cy="1255.9" r="6.1" fill="#66b655"/><circle cx="1735.6" cy="1267.7" r="6.1" fill="#66b655"/><circle cx="1735.6" cy="1274.9" r="6.1" fill="#66b655"/><circle cx="1735.6" cy="1282.0" r="6.1" fill="#66b655"/><circle cx="1735.6" cy="1289.2" r="6.1" fill="#66b655"/><circle cx="1787.1" cy="1198.2" r="6.1" fill="#66b655"/><circle cx="1787.1" cy="1207.0" r="6.1" fill="#66b655"/><circle cx="1787.1" cy="1240.3" r="6.1" fill="#66b655"/><circle cx="1787.1" cy="1259.5" r="6.1" fill="#66b655"/><circle cx="1787.1" cy="1282.9" r="6.1" fill="#66b655"/><circle cx="1839.0" cy="1192.4" r="6.1" fill="#66b655"/><circle cx="1839.0" cy="1224.7" r="6.1" fill="#66b655"/><circle cx="1890.6" cy="999.6" r="6.1" fill="#66b655"/><circle cx="1890.6" cy="1113.7" r="6.1" fill="#66b655"/><circle cx="1890.6" cy="1133.3" r="6.1" fill="#66b655"/><circle cx="1890.6" cy="1241.9" r="6.1" fill="#66b655"/><circle cx="1890.6" cy="1257.5" r="6.1" fill="#66b655"/><circle cx="1890.6" cy="1142.5" r="6.1" fill="#66b655"/><circle cx="1890.6" cy="1148.6" r="6.1" fill="#66b655"/><circle cx="1890.6" cy="1154.8" r="6.1" fill="#66b655"/><circle cx="1890.6" cy="1160.9" r="6.1" fill="#66b655"/><circle cx="1890.6" cy="1167.0" r="6.1" fill="#66b655"/><circle cx="1890.6" cy="1173.2" r="6.1" fill="#66b655"/><circle cx="1890.6" cy="1179.3" r="6.1" fill="#66b655"/><circle cx="1890.6" cy="1185.4" r="6.1" fill="#66b655"/><circle cx="1890.6" cy="1191.6" r="6.1" fill="#66b655"/><circle cx="1890.6" cy="1197.7" r="6.1" fill="#66b655"/><circle cx="1890.6" cy="1203.8" r="6.1" fill="#66b655"/><circle cx="1890.6" cy="1210.0" r="6.1" fill="#66b655"/><circle cx="1890.6" cy="1216.1" r="6.1" fill="#66b655"/><circle cx="1890.6" cy="1222.2" r="6.1" fill="#66b655"/><circle cx="1890.6" cy="1228.4" r="6.1" fill="#66b655"/><circle cx="1890.6" cy="1234.5" r="6.1" fill="#66b655"/><circle cx="1942.5" cy="1168.5" r="6.1" fill="#66b655"/><circle cx="1942.5" cy="1187.1" r="6.1" fill="#66b655"/><circle cx="1942.5" cy="1204.1" r="6.1" fill="#66b655"/><circle cx="1942.5" cy="1211.9" r="6.1" fill="#66b655"/><circle cx="1994.0" cy="1135.6" r="6.1" fill="#66b655"/><circle cx="1994.0" cy="1260.3" r="6.1" fill="#66b655"/><circle cx="1994.0" cy="1178.7" r="6.1" fill="#66b655"/><circle cx="1994.0" cy="1186.1" r="6.1" fill="#66b655"/><circle cx="1994.0" cy="1193.6" r="6.1" fill="#66b655"/><circle cx="1994.0" cy="1201.0" r="6.1" fill="#66b655"/><circle cx="1994.0" cy="1208.5" r="6.1" fill="#66b655"/><circle cx="1994.0" cy="1215.9" r="6.1" fill="#66b655"/>
<circle cx="384.2" cy="1879.8" r="6.0" fill="#0a9fd6"/><circle cx="384.2" cy="1892.1" r="6.0" fill="#0a9fd6"/><circle cx="384.2" cy="1969.7" r="6.0" fill="#0a9fd6"/><circle cx="384.2" cy="2103.2" r="6.0" fill="#0a9fd6"/><circle cx="421.4" cy="1758.1" r="6.0" fill="#0a9fd6"/><circle cx="421.4" cy="1890.0" r="6.0" fill="#0a9fd6"/><circle cx="421.4" cy="2006.9" r="6.0" fill="#0a9fd6"/><circle cx="421.4" cy="2019.9" r="6.0" fill="#0a9fd6"/><circle cx="458.6" cy="1929.7" r="6.0" fill="#0a9fd6"/><circle cx="458.6" cy="1951.6" r="6.0" fill="#0a9fd6"/><circle cx="495.9" cy="1983.1" r="6.0" fill="#0a9fd6"/><circle cx="495.9" cy="2010.7" r="6.0" fill="#0a9fd6"/><circle cx="495.9" cy="2086.6" r="6.0" fill="#0a9fd6"/><circle cx="532.9" cy="2006.9" r="6.0" fill="#0a9fd6"/><circle cx="532.9" cy="2050.8" r="6.0" fill="#0a9fd6"/><circle cx="570.3" cy="1955.4" r="6.0" fill="#0a9fd6"/><circle cx="570.3" cy="1965.0" r="6.0" fill="#0a9fd6"/><circle cx="570.3" cy="1986.5" r="6.0" fill="#0a9fd6"/><circle cx="570.3" cy="2053.6" r="6.0" fill="#0a9fd6"/><circle cx="570.3" cy="1997.4" r="6.0" fill="#0a9fd6"/><circle cx="570.3" cy="2004.8" r="6.0" fill="#0a9fd6"/><circle cx="570.3" cy="2012.2" r="6.0" fill="#0a9fd6"/><circle cx="570.3" cy="2019.5" r="6.0" fill="#0a9fd6"/><circle cx="570.3" cy="2026.9" r="6.0" fill="#0a9fd6"/><circle cx="607.5" cy="1934.5" r="6.0" fill="#0a9fd6"/><circle cx="607.5" cy="2102.3" r="6.0" fill="#0a9fd6"/><circle cx="607.5" cy="1978.3" r="6.0" fill="#0a9fd6"/><circle cx="607.5" cy="1985.9" r="6.0" fill="#0a9fd6"/><circle cx="607.5" cy="1993.6" r="6.0" fill="#0a9fd6"/><circle cx="607.5" cy="2001.2" r="6.0" fill="#0a9fd6"/><circle cx="644.4" cy="1993.0" r="6.0" fill="#0a9fd6"/><circle cx="644.4" cy="2006.9" r="6.0" fill="#0a9fd6"/><circle cx="644.4" cy="2015.5" r="6.0" fill="#0a9fd6"/><circle cx="644.4" cy="2036.5" r="6.0" fill="#0a9fd6"/>
<circle cx="914.6" cy="1893.4" r="5.9" fill="#66b655"/><circle cx="914.6" cy="2098.3" r="5.9" fill="#66b655"/><circle cx="914.6" cy="2035.7" r="5.9" fill="#66b655"/><circle cx="914.6" cy="2043.5" r="5.9" fill="#66b655"/><circle cx="914.6" cy="2051.3" r="5.9" fill="#66b655"/><circle cx="914.6" cy="2059.2" r="5.9" fill="#66b655"/><circle cx="914.6" cy="2067.0" r="5.9" fill="#66b655"/><circle cx="914.6" cy="2074.8" r="5.9" fill="#66b655"/><circle cx="966.8" cy="2084.6" r="5.9" fill="#66b655"/><circle cx="966.8" cy="1979.6" r="5.9" fill="#66b655"/><circle cx="966.8" cy="1987.1" r="5.9" fill="#66b655"/><circle cx="966.8" cy="1994.5" r="5.9" fill="#66b655"/><circle cx="966.8" cy="2002.0" r="5.9" fill="#66b655"/><circle cx="966.8" cy="2009.5" r="5.9" fill="#66b655"/><circle cx="966.8" cy="2017.0" r="5.9" fill="#66b655"/><circle cx="966.8" cy="2024.4" r="5.9" fill="#66b655"/><circle cx="966.8" cy="2031.9" r="5.9" fill="#66b655"/><circle cx="966.8" cy="2039.4" r="5.9" fill="#66b655"/><circle cx="966.8" cy="2046.9" r="5.9" fill="#66b655"/><circle cx="966.8" cy="2054.3" r="5.9" fill="#66b655"/><circle cx="966.8" cy="2061.8" r="5.9" fill="#66b655"/><circle cx="1019.6" cy="1980.5" r="5.9" fill="#66b655"/><circle cx="1019.6" cy="2141.4" r="5.9" fill="#66b655"/><circle cx="1019.6" cy="1997.2" r="5.9" fill="#66b655"/><circle cx="1019.6" cy="2004.3" r="5.9" fill="#66b655"/><circle cx="1019.6" cy="2011.4" r="5.9" fill="#66b655"/><circle cx="1019.6" cy="2018.5" r="5.9" fill="#66b655"/><circle cx="1019.6" cy="2025.6" r="5.9" fill="#66b655"/><circle cx="1019.6" cy="2032.6" r="5.9" fill="#66b655"/><circle cx="1019.6" cy="2039.7" r="5.9" fill="#66b655"/><circle cx="1019.6" cy="2046.8" r="5.9" fill="#66b655"/><circle cx="1019.6" cy="2053.9" r="5.9" fill="#66b655"/><circle cx="1019.6" cy="2068.3" r="5.9" fill="#66b655"/><circle cx="1019.6" cy="2076.8" r="5.9" fill="#66b655"/><circle cx="1019.6" cy="2085.3" r="5.9" fill="#66b655"/><circle cx="1071.8" cy="1929.4" r="5.9" fill="#66b655"/><circle cx="1071.8" cy="1967.2" r="5.9" fill="#66b655"/><circle cx="1071.8" cy="1975.8" r="5.9" fill="#66b655"/><circle cx="1071.8" cy="1984.4" r="5.9" fill="#66b655"/><circle cx="1071.8" cy="1993.1" r="5.9" fill="#66b655"/><circle cx="1071.8" cy="2001.7" r="5.9" fill="#66b655"/><circle cx="1071.8" cy="2010.3" r="5.9" fill="#66b655"/><circle cx="1071.8" cy="2018.9" r="5.9" fill="#66b655"/><circle cx="1071.8" cy="2027.6" r="5.9" fill="#66b655"/><circle cx="1071.8" cy="2036.2" r="5.9" fill="#66b655"/><circle cx="1071.8" cy="2044.8" r="5.9" fill="#66b655"/><circle cx="1124.4" cy="2036.3" r="5.9" fill="#66b655"/><circle cx="1176.7" cy="2035.5" r="5.9" fill="#66b655"/><circle cx="1176.7" cy="2046.0" r="5.9" fill="#66b655"/><circle cx="1176.7" cy="2061.8" r="5.9" fill="#66b655"/><circle cx="1176.7" cy="2069.4" r="5.9" fill="#66b655"/><circle cx="1176.7" cy="2085.9" r="5.9" fill="#66b655"/><circle cx="1176.7" cy="1979.1" r="5.9" fill="#66b655"/><circle cx="1176.7" cy="1988.1" r="5.9" fill="#66b655"/><circle cx="1176.7" cy="1997.1" r="5.9" fill="#66b655"/><circle cx="1176.7" cy="2006.2" r="5.9" fill="#66b655"/><circle cx="1176.7" cy="2015.2" r="5.9" fill="#66b655"/><circle cx="1176.7" cy="2024.2" r="5.9" fill="#66b655"/><circle cx="1229.1" cy="1822.6" r="5.9" fill="#66b655"/><circle cx="1229.1" cy="1902.3" r="5.9" fill="#66b655"/><circle cx="1229.1" cy="1948.2" r="5.9" fill="#66b655"/><circle cx="1229.1" cy="1974.6" r="5.9" fill="#66b655"/><circle cx="1229.1" cy="1982.1" r="5.9" fill="#66b655"/><circle cx="1229.1" cy="2050.6" r="5.9" fill="#66b655"/><circle cx="1229.1" cy="2054.3" r="5.9" fill="#66b655"/><circle cx="1229.1" cy="2070.1" r="5.9" fill="#66b655"/><circle cx="1229.1" cy="2082.9" r="5.9" fill="#66b655"/><circle cx="1229.1" cy="1994.1" r="5.9" fill="#66b655"/><circle cx="1229.1" cy="2003.4" r="5.9" fill="#66b655"/><circle cx="1229.1" cy="2012.8" r="5.9" fill="#66b655"/><circle cx="1229.1" cy="2022.1" r="5.9" fill="#66b655"/><circle cx="1229.1" cy="2031.5" r="5.9" fill="#66b655"/><circle cx="1229.1" cy="2040.8" r="5.9" fill="#66b655"/><circle cx="1281.8" cy="2031.0" r="5.9" fill="#66b655"/>
<circle cx="1649.1" cy="1995.5" r="6.3" fill="#0a9fd6"/><circle cx="1723.5" cy="1953.3" r="6.3" fill="#0a9fd6"/><circle cx="1723.5" cy="2007.4" r="6.3" fill="#0a9fd6"/><circle cx="1723.5" cy="2088.0" r="6.3" fill="#0a9fd6"/><circle cx="1798.3" cy="1778.8" r="6.3" fill="#0a9fd6"/><circle cx="1798.3" cy="1789.1" r="6.3" fill="#0a9fd6"/><circle cx="1798.3" cy="1807.0" r="6.3" fill="#0a9fd6"/><circle cx="1798.3" cy="1836.8" r="6.3" fill="#0a9fd6"/><circle cx="1798.3" cy="1870.4" r="6.3" fill="#0a9fd6"/><circle cx="1798.3" cy="1884.6" r="6.3" fill="#0a9fd6"/><circle cx="1798.3" cy="1894.0" r="6.3" fill="#0a9fd6"/><circle cx="1798.3" cy="1927.2" r="6.3" fill="#0a9fd6"/><circle cx="1798.3" cy="1938.3" r="6.3" fill="#0a9fd6"/><circle cx="1798.3" cy="2015.1" r="6.3" fill="#0a9fd6"/><circle cx="1835.9" cy="1735.7" r="6.3" fill="#0a9fd6"/><circle cx="1835.9" cy="1859.9" r="6.3" fill="#0a9fd6"/><circle cx="1835.9" cy="1865.8" r="6.3" fill="#0a9fd6"/><circle cx="1835.9" cy="1897.4" r="6.3" fill="#0a9fd6"/><circle cx="1835.9" cy="1907.6" r="6.3" fill="#0a9fd6"/><circle cx="1835.9" cy="1946.5" r="6.3" fill="#0a9fd6"/><circle cx="1835.9" cy="1990.3" r="6.3" fill="#0a9fd6"/><circle cx="1835.9" cy="1999.7" r="6.3" fill="#0a9fd6"/><circle cx="1835.9" cy="2008.3" r="6.3" fill="#0a9fd6"/><circle cx="1873.0" cy="1820.6" r="6.3" fill="#0a9fd6"/><circle cx="1873.0" cy="1850.5" r="6.3" fill="#0a9fd6"/><circle cx="1873.0" cy="1886.8" r="6.3" fill="#0a9fd6"/><circle cx="1873.0" cy="1923.0" r="6.3" fill="#0a9fd6"/><circle cx="1873.0" cy="2008.3" r="6.3" fill="#0a9fd6"/><circle cx="1873.0" cy="2016.8" r="6.3" fill="#0a9fd6"/><circle cx="1873.0" cy="2027.0" r="6.3" fill="#0a9fd6"/><circle cx="1873.0" cy="2059.4" r="6.3" fill="#0a9fd6"/><circle cx="1910.5" cy="1848.6" r="6.3" fill="#0a9fd6"/><circle cx="1910.5" cy="2043.8" r="6.3" fill="#0a9fd6"/><circle cx="1910.5" cy="2067.9" r="6.3" fill="#0a9fd6"/><circle cx="1947.8" cy="2024.3" r="6.3" fill="#0a9fd6"/><circle cx="1985.3" cy="1877.9" r="6.3" fill="#0a9fd6"/><circle cx="1985.3" cy="1932.5" r="6.3" fill="#0a9fd6"/><circle cx="1985.3" cy="1972.2" r="6.3" fill="#0a9fd6"/><circle cx="1985.3" cy="1989.2" r="6.3" fill="#0a9fd6"/><circle cx="1985.3" cy="2016.7" r="6.3" fill="#0a9fd6"/><circle cx="1985.3" cy="2026.8" r="6.3" fill="#0a9fd6"/><circle cx="1985.3" cy="2032.8" r="6.3" fill="#0a9fd6"/><circle cx="1985.3" cy="2040.8" r="6.3" fill="#0a9fd6"/><circle cx="1985.3" cy="2070.9" r="6.3" fill="#0a9fd6"/><circle cx="1985.3" cy="2076.9" r="6.3" fill="#0a9fd6"/><circle cx="1985.3" cy="2088.9" r="6.3" fill="#0a9fd6"/><circle cx="2022.4" cy="1825.1" r="6.3" fill="#0a9fd6"/><circle cx="2022.4" cy="1950.5" r="6.3" fill="#0a9fd6"/><circle cx="2022.4" cy="1960.5" r="6.3" fill="#0a9fd6"/><circle cx="2022.4" cy="1975.6" r="6.3" fill="#0a9fd6"/><circle cx="2022.4" cy="2026.8" r="6.3" fill="#0a9fd6"/><circle cx="2022.4" cy="2033.8" r="6.3" fill="#0a9fd6"/><circle cx="2022.4" cy="2084.9" r="6.3" fill="#0a9fd6"/><circle cx="2022.4" cy="2095.0" r="6.3" fill="#0a9fd6"/><circle cx="2022.4" cy="2127.1" r="6.3" fill="#0a9fd6"/><circle cx="2022.4" cy="2186.3" r="6.3" fill="#0a9fd6"/><circle cx="2022.4" cy="1921.4" r="6.3" fill="#0a9fd6"/><circle cx="2022.4" cy="1928.4" r="6.3" fill="#0a9fd6"/><circle cx="2022.4" cy="1935.5" r="6.3" fill="#0a9fd6"/><circle cx="2022.4" cy="1942.5" r="6.3" fill="#0a9fd6"/><circle cx="2022.4" cy="1998.7" r="6.3" fill="#0a9fd6"/><circle cx="2022.4" cy="2004.7" r="6.3" fill="#0a9fd6"/><circle cx="2022.4" cy="2010.7" r="6.3" fill="#0a9fd6"/><circle cx="2022.4" cy="2016.7" r="6.3" fill="#0a9fd6"/><circle cx="2022.4" cy="2045.8" r="6.3" fill="#0a9fd6"/><circle cx="2022.4" cy="2052.8" r="6.3" fill="#0a9fd6"/><circle cx="2022.4" cy="2059.9" r="6.3" fill="#0a9fd6"/><circle cx="2022.4" cy="2066.9" r="6.3" fill="#0a9fd6"/><circle cx="2059.9" cy="1842.6" r="6.3" fill="#0a9fd6"/><circle cx="2059.9" cy="1944.5" r="6.3" fill="#0a9fd6"/><circle cx="2059.9" cy="1954.5" r="6.3" fill="#0a9fd6"/><circle cx="2059.9" cy="1977.6" r="6.3" fill="#0a9fd6"/><circle cx="2059.9" cy="2003.7" r="6.3" fill="#0a9fd6"/><circle cx="2059.9" cy="2020.7" r="6.3" fill="#0a9fd6"/><circle cx="2059.9" cy="2027.8" r="6.3" fill="#0a9fd6"/><circle cx="2059.9" cy="2036.8" r="6.3" fill="#0a9fd6"/><circle cx="2059.9" cy="2067.9" r="6.3" fill="#0a9fd6"/><circle cx="2059.9" cy="2096.0" r="6.3" fill="#0a9fd6"/></svg>
</body></html>
